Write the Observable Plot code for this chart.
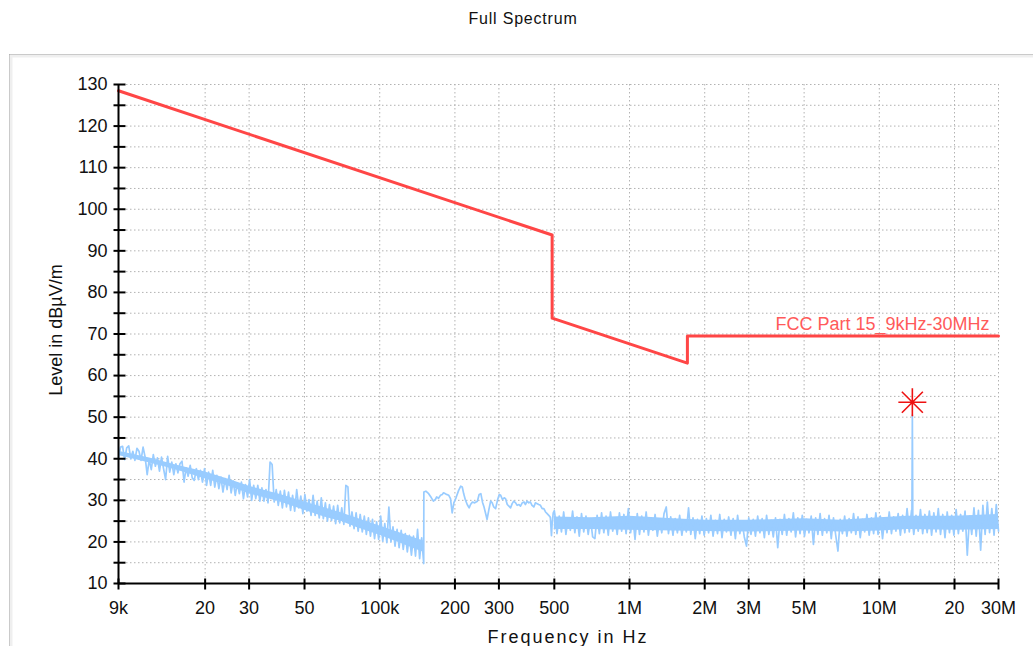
<!DOCTYPE html>
<html><head><meta charset="utf-8">
<script src="https://cdn.jsdelivr.net/npm/d3@7"></script>
<script src="https://cdn.jsdelivr.net/npm/@observablehq/plot@0.6"></script>
<style>body{margin:0;background:#fff;} svg{display:block}</style>
</head><body><div id="chart"></div>
<script>
// ---- Limit line (FCC Part 15, 9kHz-30MHz), Hz / dBµV/m
const limitFreq  = [9e3, 490e3, 490e3, 1.705e6, 1.705e6, 30e6];
const limitLevel = [128.5, 93.8, 73.8, 63.0, 69.5, 69.5];

// ---- Measured trace, sweep A: 9 kHz .. 150 kHz (log-stepped sweep), dBµV/m
const sweepAStart = 9e3, sweepAStop = 150e3;
const sweepALevel = [
 40.2,42.8,43.0,39.8,42.6,43.1,40.0,41.8,39.6,42.5,
 41.8,39.6,42.8,40.4,36.2,39.8,37.4,41.0,38.2,40.2,
 37.0,40.4,37.6,35.0,40.6,36.8,39.2,36.2,38.8,36.6,
 38.8,39.4,34.4,37.8,35.8,38.4,35.4,34.8,37.6,35.0,
 37.2,34.4,37.6,33.6,36.8,33.6,37.2,33.2,36.0,32.8,
 35.6,32.0,35.2,32.6,36.0,31.8,34.6,31.2,34.2,31.6,
 34.4,30.4,33.8,30.8,35.0,30.0,33.6,30.4,33.6,29.8,
 33.0,29.8,32.6,29.4,39.2,38.6,29.6,32.6,28.8,32.2,
 28.2,32.4,28.4,32.0,27.6,31.2,27.4,32.6,28.2,31.0,
 26.8,31.4,27.4,30.2,26.4,31.2,26.4,29.8,25.8,30.6,
 25.6,29.4,25.0,29.0,25.2,28.6,24.4,28.8,24.6,28.2,
 24.2,33.6,33.2,23.8,27.2,23.2,27.0,22.6,26.6,22.4,
 26.2,21.8,25.8,21.4,25.4,20.8,24.8,20.6,26.2,20.2,
 24.4,19.8,28.4,20.0,23.6,19.0,23.0,18.6,22.8,18.2,
 22.0,17.6,21.6,16.8,21.4,16.6,23.0,16.0,21.0,14.8
];

// ---- Measured trace, segment B: 150 kHz .. 500 kHz (kHz, dBµV/m)
const segBFreqK = [150.2,153,157,161,164,167,169,172,175,178,180,184,189,192,195,198,202,207,211,214,217,220,224,228,231,235,240,246,250,254,258,261,265,269,274,278,282,286,291,296,301,305,310,315,319,324,329,334,339,344,350,355,361,366,372,378,383,389,395,401,407,414,420,427,433,440,447,454,461,468,475,482,487,490,495,500];
const segBLevel = [32.0,32.2,31.6,30.6,29.8,30.2,30.8,30.5,31.2,31.4,31.8,31.5,31.2,30.4,27.0,29.4,30.6,32.4,33.4,33.2,31.5,30.2,29.0,28.2,29.0,29.6,29.4,29.8,31.4,31.6,29.5,28.6,27.0,25.4,28.0,29.8,29.4,28.4,28.0,30.0,31.4,31.2,30.2,30.6,30.4,29.0,28.6,28.2,29.2,29.8,29.4,28.8,29.0,28.6,29.4,29.6,29.0,29.8,29.4,29.6,28.8,28.4,29.4,29.2,29.0,28.8,28.0,28.0,27.2,26.8,26.4,25.9,21.5,24.4,27.0,27.5];

// ---- Measured trace, sweep C: 502 kHz .. 30 MHz (log-stepped sweep), dBµV/m
const sweepCStart = 502e3, sweepCStop = 30e6;
const sweepCLevel = [
 26.8,22.0,26.2,22.4,27.2,21.8,25.8,22.8,27.4,22.2,
 26.0,21.4,26.8,22.4,26.2,21.8,25.6,21.2,20.8,26.4,
 22.0,27.0,22.2,26.2,21.6,27.2,22.6,25.8,21.8,27.0,
 22.6,26.6,22.0,28.0,22.2,26.0,20.6,26.8,21.8,26.2,
 22.4,27.2,21.6,25.8,22.8,26.6,21.4,25.4,22.2,26.8,
 28.4,22.0,26.0,21.6,25.6,22.2,26.4,21.6,25.2,22.4,
 28.2,21.8,25.8,20.8,25.4,22.0,26.2,21.6,25.6,22.2,
 26.4,21.4,25.2,22.0,26.6,21.0,25.4,22.4,26.0,21.6,
 25.6,20.8,26.4,22.0,25.0,21.2,19.0,25.8,21.8,25.4,
 21.4,26.2,22.2,25.6,21.0,26.4,21.8,25.2,21.2,25.8,
 18.6,25.4,21.8,26.6,21.6,25.6,22.4,27.0,21.2,25.8,
 22.0,26.4,21.4,25.4,22.2,26.2,19.4,25.8,21.8,26.8,
 21.6,25.6,22.2,26.4,20.8,25.8,21.6,17.8,25.4,22.0,
 26.2,21.4,25.6,22.2,26.8,21.8,26.0,21.0,25.4,22.4,
 26.6,21.6,25.8,22.0,27.0,21.8,26.2,20.8,25.8,22.2,
 27.2,22.0,26.0,22.6,26.8,21.6,26.4,22.2,28.0,22.4,
 27.6,21.8,26.4,22.6,27.8,22.0,26.6,22.2,27.4,21.6,
 27.0,22.4,28.0,21.8,26.6,21.0,27.2,22.2,26.4,21.6,
 27.8,22.0,26.6,22.6,27.4,16.8,26.2,21.8,28.2,21.4,
 27.6,18.0,28.8,21.8,29.6,22.2,28.0,21.6,29.0,22.6
];
// ---- 13.56 MHz emission (Hz, dBµV/m)
const spikeFreq  = [13.50e6, 13.56e6, 13.62e6];
const spikeLevel = [23.5, 50.5, 24.0];

// ---- Dense-noise core envelope (kHz, low, high, group)
const bandFreqK = [9,12,15,20,25,30,40,50,60,70,80,100,120,140,150, 500,700,1000,1500,2000,3000,5000,7000,10000,13000,20000,30000];
const bandLow   = [40.8,39,37.5,35.2,33.4,31.6,29.6,27.6,26,25,23.6,21.6,19.8,18.2,17.5, 23,23,22.8,22.6,22.5,22.4,22.6,22.4,22.6,23,22.8,23];
const bandHigh  = [41.8,40.2,38.6,36.8,35,33.4,31.4,29.6,28.2,27,25.8,23.8,22.2,20.8,20.2, 26,25.8,26.2,25.6,25.2,25.2,25.6,25.2,25.8,26.2,26.2,26.6];
const bandGroup = [..."AAAAAAAAAAAAAAA", ..."CCCCCCCCCCCC"];

// ---- Final measurement marker
const markerFreq = [13.56e6];
const markerLevel = [53.6];
const limitName = "FCC Part 15_9kHz-30MHz";

// ---- Axes
const xTicks = [9e3,2e4,3e4,5e4,1e5,2e5,3e5,5e5,1e6,2e6,3e6,5e6,1e7,2e7,3e7];
const xTickLabels = ["9k","20","30","50","100k","200","300","500","1M","2M","3M","5M","10M","20","30M"];
const yMajor = [10,20,30,40,50,60,70,80,90,100,110,120,130];

// ---- build tables
function sweep(start, stop, vals) {
  const n = vals.length;
  return vals.map((v, i) => ({f: start * Math.pow(stop / start, i / (n - 1)), v}));
}
const trace = [
  ...sweep(sweepAStart, sweepAStop, sweepALevel),
  ...segBFreqK.map((k, i) => ({f: k * 1e3, v: segBLevel[i]})),
  ...sweep(sweepCStart, sweepCStop, sweepCLevel),
  ...spikeFreq.map((f, i) => ({f, v: spikeLevel[i]}))
].sort((a, b) => a.f - b.f);
const band = bandFreqK.map((k, i) => ({f: k * 1e3, lo: bandLow[i], hi: bandHigh[i], g: bandGroup[i]}));
const limit = limitFreq.map((f, i) => ({f, v: limitLevel[i]}));
const marker = markerFreq.map((f, i) => ({f, v: markerLevel[i]}));
const yTickAll = d3.range(10, 131, 5);

const hTick = {draw(ctx) { ctx.moveTo(-5, 0); ctx.lineTo(7, 0); }};
const vTick = {draw(ctx) { ctx.moveTo(0, -5); ctx.lineTo(0, 6); }};
const star8 = {draw(ctx) {
  const r = 14, d = 10.5;
  ctx.moveTo(-r, 0); ctx.lineTo(r, 0);
  ctx.moveTo(0, -r); ctx.lineTo(0, r);
  ctx.moveTo(-d, -d); ctx.lineTo(d, d);
  ctx.moveTo(-d, d); ctx.lineTo(d, -d);
}};

const grid = {stroke: "#b2b2b2", strokeWidth: 1, strokeDasharray: "1.5,2.5"};
const chart = Plot.plot({
  width: 1033, height: 646,
  marginLeft: 118, marginRight: 35, marginTop: 84, marginBottom: 63,
  style: {fontFamily: "'Liberation Sans', Arial, sans-serif", fontSize: "18px", background: "white", overflow: "visible"},
  x: {type: "log", domain: [9e3, 30e6], axis: null},
  y: {domain: [10, 130], axis: null},
  marks: [
    Plot.ruleX(xTicks, {...grid}),
    Plot.ruleY(yTickAll, {...grid}),
    Plot.areaY(band, {x: "f", y1: "lo", y2: "hi", z: "g", fill: "#99ccff", curve: "linear"}),
    Plot.line(trace, {x: "f", y: "v", stroke: "#99ccff", strokeWidth: 1.7}),
    Plot.line(limit, {x: "f", y: "v", stroke: "#ff4646", strokeWidth: 3}),
    Plot.text([limitName], {x: 30e6, y: 69.5, text: d => d, dx: -9, dy: -12, textAnchor: "end", fill: "#ff5a5a", fontSize: 18}),
    Plot.dot(marker, {x: "f", y: "v", symbol: star8, fill: "none", stroke: "#ee1111", strokeWidth: 1.6, r: 14}),
    Plot.ruleX([9e3], {y1: 10, y2: 130, stroke: "black", strokeWidth: 2}),
    Plot.ruleY([10], {x1: 9e3, x2: 30e6, stroke: "black", strokeWidth: 2}),
    Plot.dot(yTickAll, {x: 9e3, y: d => d, symbol: hTick, fill: "none", stroke: "black", strokeWidth: 2, r: 5}),
    Plot.dot(xTicks, {x: d => d, y: 10, symbol: vTick, fill: "none", stroke: "black", strokeWidth: 2, r: 5}),
    Plot.text(yMajor, {x: 9e3, y: d => d, text: d => String(d), dx: -11, textAnchor: "end", fill: "#111"}),
    Plot.text(xTicks, {x: d => d, y: 10, text: (d, i) => xTickLabels[i], dy: 25, fill: "#111"})
  ]
});
const svg = d3.select(chart);
// panel frame
svg.insert("rect", ":first-child").attr("x", 11).attr("y", 56).attr("width", 1030).attr("height", 600)
  .attr("fill", "none").attr("stroke", "#efefef").attr("stroke-width", 3);
svg.insert("rect", ":first-child").attr("x", 9.5).attr("y", 54.5).attr("width", 1030).attr("height", 600)
  .attr("fill", "white").attr("stroke", "#a4a4a4").attr("stroke-width", 1);
svg.insert("rect", ":first-child").attr("x", 0).attr("y", 0).attr("width", 1033).attr("height", 646).attr("fill", "white");
// titles
svg.append("text").attr("x", 523).attr("y", 24).attr("text-anchor", "middle")
  .style("font-size", "16px").style("letter-spacing", "0.8px").attr("fill", "#111").text("Full Spectrum");
svg.append("text").attr("x", 568).attr("y", 643).attr("text-anchor", "middle")
  .style("font-size", "18px").style("letter-spacing", "2px").attr("fill", "#111").text("Frequency in Hz");
svg.append("text").attr("transform", "translate(62,330) rotate(-90)").attr("text-anchor", "middle")
  .style("font-size", "18px").attr("fill", "#111").text("Level in dBµV/m");
document.getElementById("chart").appendChild(chart);
</script>
</body></html>
